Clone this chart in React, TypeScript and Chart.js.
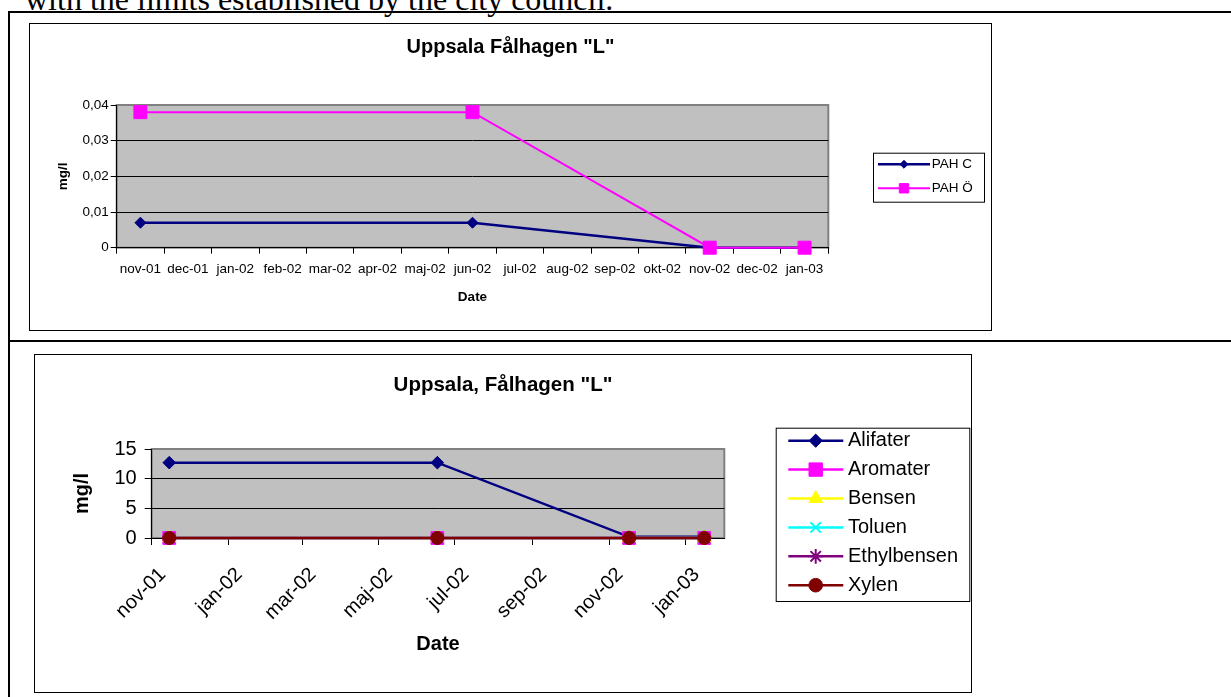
import React, { useEffect, useRef } from 'react';
import { Chart, registerables } from 'chart.js';
import { drawPoint } from 'chart.js/helpers';

Chart.register(...registerables);

const FONT = "'Liberation Sans', Arial, Helvetica, sans-serif";
const SERIF = "'Liberation Serif', 'Times New Roman', serif";

// ---------- Chart 1 data ----------
const months1 = ['nov-01', 'dec-01', 'jan-02', 'feb-02', 'mar-02', 'apr-02', 'maj-02', 'jun-02', 'jul-02', 'aug-02', 'sep-02', 'okt-02', 'nov-02', 'dec-02', 'jan-03'];
const sampleMonths1 = ['nov-01', 'jun-02', 'nov-02', 'jan-03'];
const pahC = [0.007, 0.007, 0, 0];
const pahO = [0.038, 0.038, 0, 0];
const yTickValues1 = [0, 0.01, 0.02, 0.03, 0.04];
const yTickLabels1 = ['0', '0,01', '0,02', '0,03', '0,04'];

// ---------- Chart 2 data ----------
const sampleDates2 = ['2001-11-15', '2002-06-17', '2002-11-17', '2003-01-16'];
const alifater = [12.7, 12.7, 0.2, 0.2];
const aromater = [0, 0, 0, 0];
const bensen = [0, 0, 0, 0];
const toluen = [0, 0, 0, 0];
const ethylbensen = [0, 0, 0, 0];
const xylen = [0, 0, 0, 0];
const xStart2 = '2001-11-01';
const xEnd2 = '2003-02-01';
const xTickDates2 = ['2001-11-01', '2002-01-01', '2002-03-01', '2002-05-01', '2002-07-01', '2002-09-01', '2002-11-01', '2003-01-01'];
const xTickLabels2 = ['nov-01', 'jan-02', 'mar-02', 'maj-02', 'jul-02', 'sep-02', 'nov-02', 'jan-03'];
const yTickValues2 = [0, 5, 10, 15];
const yTickLabels2 = ['0', '5', '10', '15'];

const dayNum = (s: string) => {
  const [y, m, d] = s.split('-').map(Number);
  return Date.UTC(y, m - 1, d) / 86400000;
};

const plotFrame = {
  id: 'plotFrame',
  beforeDraw(chart: any) {
    const { ctx, chartArea: a } = chart;
    ctx.save();
    ctx.fillStyle = '#C0C0C0';
    ctx.fillRect(a.left, a.top, a.right - a.left, a.bottom - a.top);
    ctx.strokeStyle = '#808080';
    ctx.lineWidth = 2;
    ctx.strokeRect(a.left, a.top, a.right - a.left, a.bottom - a.top);
    ctx.restore();
  },
};

function titlePlugin(text: string, size: number, baseline: number) {
  return {
    id: 'docTitle',
    afterDraw(chart: any) {
      const ctx = chart.ctx;
      ctx.save();
      ctx.fillStyle = '#000';
      ctx.font = `bold ${size}px ${FONT}`;
      ctx.textAlign = 'center';
      ctx.textBaseline = 'alphabetic';
      ctx.fillText(text, chart.width / 2, baseline);
      ctx.restore();
    },
  };
}

function legendPlugin(cfg: any) {
  return {
    id: 'boxLegend',
    afterDraw(chart: any) {
      const ctx = chart.ctx;
      ctx.save();
      ctx.fillStyle = '#fff';
      ctx.fillRect(cfg.x, cfg.y, cfg.w, cfg.h);
      ctx.strokeStyle = '#000';
      ctx.lineWidth = 1;
      ctx.strokeRect(cfg.x + 0.5, cfg.y + 0.5, cfg.w, cfg.h);
      chart.data.datasets.forEach((ds: any, i: number) => {
        const y = cfg.firstY + i * cfg.step;
        ctx.strokeStyle = ds.borderColor;
        ctx.lineWidth = ds.borderWidth;
        ctx.beginPath();
        ctx.moveTo(cfg.lineX0, y);
        ctx.lineTo(cfg.lineX1, y);
        ctx.stroke();
        ctx.fillStyle = ds.pointBackgroundColor;
        ctx.strokeStyle = ds.pointBorderColor;
        ctx.lineWidth = ds.pointBorderWidth;
        drawPoint(ctx, { pointStyle: ds.pointStyle, rotation: 0, radius: ds.pointRadius * cfg.markerScale, borderWidth: ds.pointBorderWidth }, cfg.markerX, y);
        ctx.fillStyle = '#000';
        ctx.font = `${cfg.fontSize}px ${FONT}`;
        ctx.textAlign = 'left';
        ctx.textBaseline = 'middle';
        ctx.fillText(ds.label, cfg.textX, y);
      });
      ctx.restore();
    },
  };
}

function series(label: string, color: string, style: string, radius: number, lineWidth: number, order: number, data: any[]) {
  return {
    label,
    data,
    borderColor: color,
    backgroundColor: color,
    pointBackgroundColor: color,
    pointBorderColor: color,
    pointBorderWidth: style === 'crossRot' || style === 'star' ? 2 : 1,
    pointStyle: style,
    pointRadius: radius,
    borderWidth: lineWidth,
    tension: 0,
    clip: false,
    order,
    spanGaps: true,
  };
}

export default function App() {
  const ref1 = useRef<HTMLCanvasElement>(null);
  const ref2 = useRef<HTMLCanvasElement>(null);

  useEffect(() => {
    const f13 = { family: FONT, size: 13.5 };
    const f13b = { family: FONT, size: 13.5, weight: 'bold' as const };
    const f20 = { family: FONT, size: 20 };
    const f20b = { family: FONT, size: 20, weight: 'bold' as const };

    const chart1 = new Chart(ref1.current as HTMLCanvasElement, {
      type: 'line',
      data: {
        labels: months1,
        datasets: [
          series('PAH C', '#000080', 'rectRot', 5.5, 2.5, 1, sampleMonths1.map((m, i) => ({ x: m, y: pahC[i] }))),
          series('PAH Ö', '#FF00FF', 'rect', 9.2, 2, 0, sampleMonths1.map((m, i) => ({ x: m, y: pahO[i] }))),
        ] as any,
      },
      options: {
        animation: false,
        responsive: false,
        events: [],
        layout: { padding: { left: 20, right: 162.7, top: 81, bottom: 0 } },
        plugins: { legend: { display: false }, title: { display: false }, tooltip: { enabled: false } },
        scales: {
          x: {
            type: 'category',
            offset: true,
            grid: { offset: true, drawOnChartArea: false, drawTicks: true, tickLength: 6, tickColor: '#000', color: '#000' },
            border: { color: '#000', width: 1 },
            ticks: { color: '#000', font: f13, padding: 7, autoSkip: false, maxRotation: 0, minRotation: 0 },
            title: { display: true, text: 'Date', color: '#000', font: f13b, padding: { top: 0, bottom: 25 } },
            afterFit: (s: any) => { s.height = 82.3; },
          },
          y: {
            type: 'linear',
            min: 0,
            max: 0.04,
            afterBuildTicks: (s: any) => { s.ticks = yTickValues1.map((v) => ({ value: v })); },
            ticks: { color: '#000', font: f13, padding: 2, callback: (_v: any, i: number) => yTickLabels1[i] },
            grid: {
              color: (c: any) => (c.index === yTickValues1.length - 1 ? 'rgba(0,0,0,0)' : '#000'),
              tickColor: '#000',
              tickLength: 6,
              lineWidth: 1,
            },
            border: { color: '#000', width: 1 },
            title: { display: true, text: 'mg/l', color: '#000', font: f13b, padding: { top: 5, bottom: 0 } },
            afterFit: (s: any) => { s.width = 66.7; },
          },
        },
      } as any,
      plugins: [
        plotFrame,
        titlePlugin('Uppsala Fålhagen "L"', 20, 29.3),
        legendPlugin({ x: 843, y: 128.7, w: 111, h: 49, firstY: 140.3, step: 24, lineX0: 848, lineX1: 900, markerX: 874, textX: 901.7, fontSize: 13.5, markerScale: 0.72 }),
      ],
    });

    const pts = (vals: number[]) => sampleDates2.map((d, i) => ({ x: dayNum(d), y: vals[i] }));

    const chart2 = new Chart(ref2.current as HTMLCanvasElement, {
      type: 'line',
      data: {
        datasets: [
          series('Alifater', '#000080', 'rectRot', 6.3, 2.5, 5, pts(alifater)),
          series('Aromater', '#FF00FF', 'rect', 9, 2.5, 4, pts(aromater)),
          series('Bensen', '#FFFF00', 'triangle', 7.5, 2.5, 3, pts(bensen)),
          series('Toluen', '#00FFFF', 'crossRot', 7, 2.5, 2, pts(toluen)),
          series('Ethylbensen', '#800080', 'star', 7, 2.5, 1, pts(ethylbensen)),
          series('Xylen', '#800000', 'circle', 6.5, 2.5, 0, pts(xylen)),
        ] as any,
      },
      options: {
        animation: false,
        responsive: false,
        events: [],
        layout: { padding: { left: 20, right: 246.7, top: 94, bottom: 0 } },
        plugins: { legend: { display: false }, title: { display: false }, tooltip: { enabled: false } },
        scales: {
          x: {
            type: 'linear',
            min: dayNum(xStart2),
            max: dayNum(xEnd2),
            afterBuildTicks: (s: any) => { s.ticks = xTickDates2.map((d) => ({ value: dayNum(d) })); },
            grid: { drawOnChartArea: false, drawTicks: true, tickLength: 7, tickColor: '#000', color: '#000' },
            border: { color: '#000', width: 1 },
            ticks: {
              color: '#000', font: f20, padding: 18, labelOffset: 11, autoSkip: false, maxRotation: 45, minRotation: 45,
              callback: (_v: any, i: number) => xTickLabels2[i],
            },
            title: { display: true, text: 'Date', color: '#000', font: f20b, padding: { top: 0, bottom: 36 } },
            afterFit: (s: any) => { s.height = 154; },
          },
          y: {
            type: 'linear',
            min: 0,
            max: 15,
            afterBuildTicks: (s: any) => { s.ticks = yTickValues2.map((v) => ({ value: v })); },
            ticks: { color: '#000', font: f20, padding: 8, callback: (_v: any, i: number) => yTickLabels2[i] },
            grid: {
              color: (c: any) => (c.index === yTickValues2.length - 1 ? 'rgba(0,0,0,0)' : '#000'),
              tickColor: '#000',
              tickLength: 7,
              lineWidth: 1,
            },
            border: { color: '#000', width: 1 },
            title: { display: true, text: 'mg/l', color: '#000', font: f20b, padding: { top: 15.5, bottom: 0 } },
            afterFit: (s: any) => { s.width = 96.7; },
          },
        },
      } as any,
      plugins: [
        plotFrame,
        titlePlugin('Uppsala, Fålhagen "L"', 20.5, 36),
        legendPlugin({ x: 740.7, y: 72.7, w: 193.6, h: 173.3, firstY: 85.7, step: 28.9, lineX0: 753.3, lineX1: 808.3, markerX: 780.7, textX: 813, fontSize: 20, markerScale: 1.05 }),
      ],
    });

    return () => {
      chart1.destroy();
      chart2.destroy();
    };
  }, []);

  const line = (style: React.CSSProperties) => (
    <div style={{ position: 'absolute', background: '#000', ...style }} />
  );

  return (
    <div style={{ position: 'fixed', left: 0, top: 0, width: 1231, height: 697, overflow: 'hidden', background: '#fff' }}>
      <div style={{ position: 'absolute', left: 25, top: -17, fontFamily: SERIF, fontSize: 32, lineHeight: '32px', whiteSpace: 'nowrap', color: '#000' }}>
        with the limits established by the city council.
      </div>
      {line({ left: 8, top: 11, width: 1223, height: 2 })}
      {line({ left: 8, top: 11, width: 2, height: 686 })}
      {line({ left: 8, top: 340, width: 1223, height: 2 })}
      <div style={{ position: 'absolute', left: 29, top: 23, width: 963, height: 308, boxSizing: 'border-box', border: '1px solid #000', background: '#fff' }}>
        <canvas ref={ref1} width={961} height={306} style={{ position: 'absolute', left: 0, top: 0, width: 961, height: 306, display: 'block' }} />
      </div>
      <div style={{ position: 'absolute', left: 34, top: 354, width: 938, height: 339, boxSizing: 'border-box', border: '1px solid #000', background: '#fff' }}>
        <canvas ref={ref2} width={936} height={337} style={{ position: 'absolute', left: 0, top: 0, width: 936, height: 337, display: 'block' }} />
      </div>
    </div>
  );
}
